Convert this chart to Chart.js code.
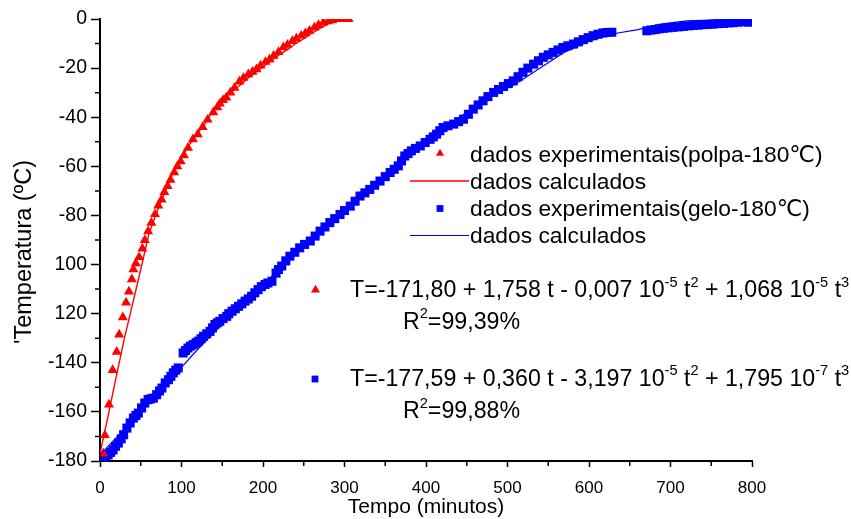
<!DOCTYPE html>
<html><head><meta charset="utf-8">
<script src="https://cdn.jsdelivr.net/npm/chart.js@4.4.0/dist/chart.umd.min.js"></script>
<style>html,body{margin:0;padding:0;background:#fff;}canvas{display:block}</style>
</head><body><canvas id="c" width="851" height="519"></canvas>
<script>
// ---------- data ----------
const polpaTempo = [4,6,11,15.5,20.5,23.5,28,32,35.5,39,41,44,48,52,55,59,63,67.5,71.5,75.5,79,83,86.5,91,95,99,103,108,114,120,126,132,139,144,147,151,155,160,165,171,176,182,187,192,197,203,208,213,219,225,230,236,241,247,252,257,263,268,274,280,285,290,295,300,305];
const polpaTemp  = [-177,-169.5,-157,-143,-135.5,-128.5,-121.5,-115.5,-111,-106,-102,-99.5,-97,-93.5,-90,-86.5,-83,-79.5,-76,-73.5,-70.5,-68,-65.5,-62.5,-60,-58,-55.5,-52.5,-49,-47,-44,-41,-38,-36,-34.5,-33,-32,-30,-28,-25.5,-24,-22.5,-21.5,-20.5,-19,-17.5,-16.5,-15,-13.5,-11.5,-10.5,-9,-8,-6.8,-5.8,-4.8,-3.5,-2.5,-1.5,-1,-0.5,0,0,0,0];

const polpaCalcTempo = [0,10,20,30,40,50,60,70,80,90,100,110,120,130,140,150,160,170,180,190,200,210,220,230,240,250,260,270,280,290,300,305];
const polpaCalcTemp  = [-177,-161.5,-145.5,-130,-116,-102,-87.5,-78.5,-70,-62.5,-56.5,-51,-46.5,-42,-36.5,-32,-30,-27.5,-24.5,-22,-19.5,-17,-14.5,-12.5,-10,-8,-5.8,-3.8,-2,-0.7,-0.1,0];

const geloTempo = [0,4,7,10,13,16,19,22.5,26,29,33,37,41,44,47,51,55,59,62,65.5,69.5,73,76,80,84,87,90,93,96,102,105,108,111,114.5,118,121,124,127,131,135,138,141,144,147,151,155.5,158,162,166,170,174,178,182,186,190,194,198,202.5,206,211,216,219,223,228,233,239,245,251,258,264,270,276,282,288,294.5,300,307,313,319,325,331,337,343.6,350,356,361,366,370,374,378,382,387,393,399,405,409,413,417,421,427,434,440,446,452,458,464,470,476,483,489,495,501,507,513,519,525,532,538,544,550,556,562,568,574,581,587,593,599,605,611,617,622,628,671,676,681,686,691,697,703,710,716,722,728,734,740,746,752,758,765,771,777,783,790,796];
const geloTemp  = [-179.5,-179.5,-178.5,-177.5,-176.5,-175.5,-174,-172.7,-171,-169.3,-166.6,-164.5,-162.5,-161.5,-160.5,-158.4,-156.4,-155,-154.7,-154.4,-153,-151.5,-150.3,-148.2,-146.9,-145.5,-144.1,-143,-142.1,-136,-135,-134,-133.2,-132.6,-131.8,-131.2,-130.2,-129.2,-128.2,-127.2,-125.8,-124.4,-123.7,-123.1,-122,-121.1,-120,-119,-118,-117,-116,-114.9,-114,-112.9,-111.5,-110.2,-109,-108.1,-107.5,-106.8,-103.5,-102,-100.6,-98.5,-96.6,-95,-93.2,-91.8,-90.4,-88.4,-86.4,-84.7,-82.9,-81.3,-79.6,-78,-76.2,-74.2,-72.1,-70.8,-69.4,-67.7,-66,-64.2,-62.5,-61.2,-59.8,-57.8,-55.8,-54.8,-53.7,-52.7,-51.7,-50.3,-49,-48,-46.9,-45.5,-44.2,-43.5,-42.8,-41.8,-40.8,-38.8,-36.7,-35,-33.3,-31.6,-29.9,-28.7,-27.5,-26.3,-25.2,-23.5,-21.7,-20,-18.4,-17,-15.6,-14.6,-13.6,-12.6,-11.6,-10.9,-10.2,-9.3,-8.4,-7.6,-6.8,-6.2,-5.7,-5.5,-5.4,-4.8,-4.5,-4.3,-4.0,-3.8,-3.6,-3.4,-3.2,-3.0,-2.8,-2.6,-2.5,-2.3,-2.2,-2.1,-1.9,-1.8,-1.6,-1.5,-1.3,-1.1,-1.3];

const geloCalcTempo = [0,30,60,90,120,150,180,210,240,270,300,330,360,390,420,450,480,510,540,570,600,630,660,690,720,750,780,800];
const geloCalcTemp  = [-177.5,-167,-156.7,-145.5,-134.5,-124.2,-114.5,-105,-95.5,-86.5,-77.5,-69,-60.5,-52.5,-45,-38,-31.5,-26.5,-20,-13.5,-9,-6,-4.3,-2,-0.8,-0.4,-0.5,-0.8];

const yTickValues = [0,-20,-40,-60,-80,-100,-120,-140,-160,-180];
const yTickLabels = ['0','-20','-40','-60','-80','100','120','-140','-160','-180'];
const yMinorTicks = [-10,-30,-50,-70,-90,-110,-130,-150,-170];
const xMinorTicks = [50,150,250,350,450,550,650,750];

const xTitle = 'Tempo (minutos)';
const yTitle = "'Temperatura (ºC)";
const legendLabels = ['dados experimentais(polpa-180℃)','dados calculados','dados experimentais(gelo-180℃)','dados calculados'];
const eqPolpa = [['T=-171,80 + 1,758 t - 0,007 10',0],['-5',1],[' t',0],['2',1],[' + 1,068 10',0],['-5',1],[' t',0],['3',1]];
const r2Polpa = [['R',0],['2',1],['=99,39%',0]];
const eqGelo  = [['T=-177,59 + 0,360 t - 3,197 10',0],['-5',1],[' t',0],['2',1],[' + 1,795 10',0],['-7',1],[' t',0],['3',1]];
const r2Gelo  = [['R',0],['2',1],['=99,88%',0]];

// ---------- chart ----------
const FONT = '"Liberation Sans", Arial, "DejaVu Sans", sans-serif';
const RED = '#ff0000', BLUE = '#0000ff';
const pts = (xs, ys) => xs.map((x, i) => ({x, y: ys[i]}));

const minorTicks = {
  id: 'minorTicks',
  afterDraw(chart) {
    const {ctx, chartArea: a, scales: {x, y}} = chart;
    ctx.save();
    ctx.strokeStyle = '#000'; ctx.lineWidth = 1.5;
    ctx.beginPath();
    xMinorTicks.forEach(v => { const p = x.getPixelForValue(v); ctx.moveTo(p, a.bottom); ctx.lineTo(p, a.bottom + 5); });
    yMinorTicks.forEach(v => { const p = y.getPixelForValue(v); ctx.moveTo(a.left, p); ctx.lineTo(a.left - 5, p); });
    ctx.stroke();
    ctx.restore();
  }
};

function drawRich(ctx, x, y, parts, size) {
  parts.forEach(([t, sup]) => {
    const s = sup ? size * 0.63 : size;
    ctx.font = s + 'px ' + FONT;
    ctx.fillText(t, x, sup ? y - size * 0.45 : y);
    x += ctx.measureText(t).width;
  });
}

const annotations = {
  id: 'annotations',
  afterDraw(chart) {
    const ctx = chart.ctx;
    const H = Chart.helpers;
    ctx.save();
    // y axis title
    ctx.fillStyle = '#000';
    ctx.font = '23.5px ' + FONT;
    ctx.textAlign = 'center'; ctx.textBaseline = 'middle';
    ctx.translate(25, 252); ctx.rotate(-Math.PI / 2);
    ctx.fillText(yTitle, 0, 0);
    ctx.setTransform(1, 0, 0, 1, 0, 0);
    ctx.textAlign = 'left'; ctx.textBaseline = 'alphabetic';
    // legend
    ctx.fillStyle = RED;
    H.drawPoint(ctx, {pointStyle: 'triangle', radius: 4.7, borderWidth: 0, rotation: 0}, 440, 153.5);
    ctx.fillStyle = BLUE;
    H.drawPoint(ctx, {pointStyle: 'rect', radius: 4.8, borderWidth: 0, rotation: 0}, 440, 208.5);
    ctx.lineWidth = 1.3;
    ctx.strokeStyle = RED; ctx.beginPath(); ctx.moveTo(410, 181); ctx.lineTo(469, 181); ctx.stroke();
    ctx.lineWidth = 1.2;
    ctx.strokeStyle = BLUE; ctx.beginPath(); ctx.moveTo(410, 235.5); ctx.lineTo(469, 235.5); ctx.stroke();
    ctx.fillStyle = '#000';
    ctx.font = '22.8px ' + FONT;
    const base = [161.5, 188.5, 215.5, 242.5];
    legendLabels.forEach((t, i) => ctx.fillText(t, 470, base[i]));
    // equations
    ctx.fillStyle = RED;
    H.drawPoint(ctx, {pointStyle: 'triangle', radius: 5.2, borderWidth: 0, rotation: 0}, 315.5, 290);
    ctx.fillStyle = BLUE;
    H.drawPoint(ctx, {pointStyle: 'rect', radius: 4.8, borderWidth: 0, rotation: 0}, 315, 379);
    ctx.fillStyle = '#000';
    drawRich(ctx, 350, 297, eqPolpa, 23.2);
    drawRich(ctx, 403, 328.5, r2Polpa, 23.2);
    drawRich(ctx, 350, 385.5, eqGelo, 23.2);
    drawRich(ctx, 403, 418, r2Gelo, 23.2);
    ctx.restore();
  }
};

new Chart(document.getElementById('c'), {
  type: 'scatter',
  data: {
    datasets: [
      {label: 'dados calculados (polpa)', data: pts(polpaCalcTempo, polpaCalcTemp), showLine: true, pointRadius: 0, borderColor: RED, borderWidth: 1.4, fill: false, tension: 0},
      {label: 'dados calculados (gelo)', data: pts(geloCalcTempo, geloCalcTemp), showLine: true, pointRadius: 0, borderColor: BLUE, borderWidth: 1.2, fill: false, tension: 0},
      {label: 'dados experimentais(polpa-180℃)', data: pts(polpaTempo, polpaTemp), showLine: false, pointStyle: 'triangle', pointRadius: 5.8, pointBorderWidth: 0, pointBackgroundColor: RED, pointBorderColor: RED},
      {label: 'dados experimentais(gelo-180℃)', data: pts(geloTempo, geloTemp), showLine: false, pointStyle: 'rect', pointRadius: 6.4, pointBorderWidth: 0, pointBackgroundColor: BLUE, pointBorderColor: BLUE}
    ]
  },
  options: {
    responsive: false, animation: false, devicePixelRatio: 1,
    layout: {padding: {left: 0, right: 99, top: 19, bottom: 0}},
    plugins: {legend: {display: false}, tooltip: {enabled: false}},
    scales: {
      x: {
        type: 'linear', position: 'bottom', min: 0, max: 800,
        afterFit(s) { s.height = 58; },
        ticks: {stepSize: 100, color: '#000', font: {family: FONT, size: 17}, padding: 11, maxRotation: 0, autoSkip: false},
        grid: {drawOnChartArea: false, drawTicks: true, tickLength: 6, tickColor: '#000', tickWidth: 1.5},
        border: {display: true, color: '#000', width: 2},
        title: {display: true, text: xTitle, color: '#000', font: {family: FONT, size: 21}, padding: {top: 0, bottom: -1}}
      },
      y: {
        type: 'linear', position: 'left', min: -180, max: 0,
        afterFit(s) { s.width = 100; },
        afterBuildTicks(s) { s.ticks = yTickValues.map(v => ({value: v})); },
        ticks: {color: '#000', font: {family: FONT, size: 19.5}, padding: 4, autoSkip: false,
                callback: v => { const i = yTickValues.indexOf(v); return i < 0 ? '' : yTickLabels[i]; }},
        grid: {drawOnChartArea: false, drawTicks: true, tickLength: 9, tickColor: '#000', tickWidth: 1.5},
        border: {display: true, color: '#000', width: 2},
        title: {display: false}
      }
    }
  },
  plugins: [minorTicks, annotations]
});
</script></body></html>
